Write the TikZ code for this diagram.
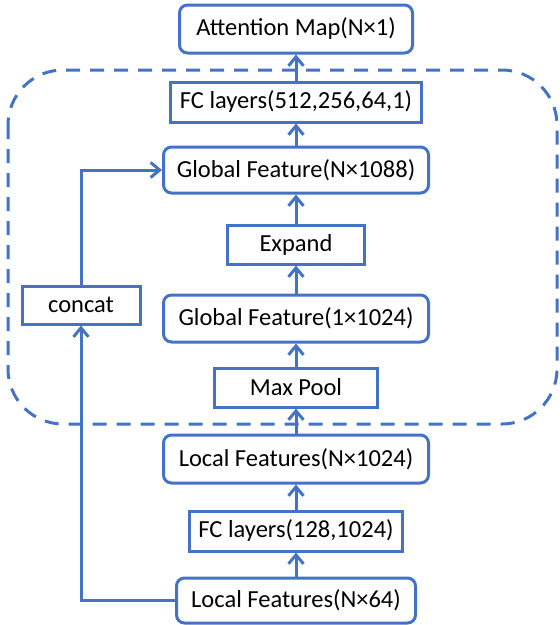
\documentclass[tikz,border=0pt]{standalone}
\usepackage{fontspec}
\setmainfont{Carlito}
\usepackage{tikz}
\usetikzlibrary{arrows.meta}
\definecolor{netblue}{HTML}{4472C4}

\begin{document}
\begin{tikzpicture}[x=1pt,y=-1pt,
        layer/.style={draw=netblue,line width=3pt,fill=white,inner sep=0pt,
            font=\fontsize{24.5}{28}\selectfont},
        roundlayer/.style={layer,rounded corners=8pt},
        flow/.style={draw=netblue,line width=3pt,
            -{Straight Barb[length=9pt,width=15pt]}},
        frame/.style={draw=netblue,line width=3pt,dash pattern=on 14pt off 10pt,
            rounded corners=55pt}]
    \useasboundingbox (0,0) rectangle (560,625);

    % attention block
    \draw [frame] (8,70) rectangle (557,424);

    \node [roundlayer,minimum width=233pt,minimum height=48pt] (attn)   at (296,29)    {Attention Map(N×1)};
    \node [layer,minimum width=251pt,minimum height=40pt]      (fcB)    at (296,102)   {FC layers(512,256,64,1)};
    \node [roundlayer,minimum width=265pt,minimum height=46pt] (gfeatB) at (296,170)   {Global Feature(N×1088)};
    \node [layer,minimum width=137pt,minimum height=39pt]      (expand) at (296,244.5) {Expand};
    \node [layer,minimum width=118pt,minimum height=38pt]      (concat) at (81,305)    {concat};
    \node [roundlayer,minimum width=265pt,minimum height=47pt] (gfeatA) at (296,318.5) {Global Feature(1×1024)};
    \node [layer,minimum width=163pt,minimum height=39pt]      (pool)   at (296,387.5) {Max Pool};
    \node [roundlayer,minimum width=265pt,minimum height=48pt] (lfeatB) at (296,459)   {Local Features(N×1024)};
    \node [layer,minimum width=213pt,minimum height=40pt]      (fcA)    at (296,531)   {FC layers(128,1024)};
    \node [roundlayer,minimum width=239pt,minimum height=45pt] (lfeatA) at (296,600.5) {Local Features(N×64)};

    \draw [flow] (lfeatA) -- (fcA);
    \draw [flow] (fcA) -- (lfeatB);
    \draw [flow] (lfeatB) -- (pool);
    \draw [flow] (pool) -- (gfeatA);
    \draw [flow] (gfeatA) -- (expand);
    \draw [flow] (expand) -- (gfeatB);
    \draw [flow] (gfeatB) -- (fcB);
    \draw [flow] (fcB) -- (attn);

    \draw [flow] (lfeatA.west) -| (concat);
    \draw [flow] (concat) |- (gfeatB);
\end{tikzpicture}
\end{document}
